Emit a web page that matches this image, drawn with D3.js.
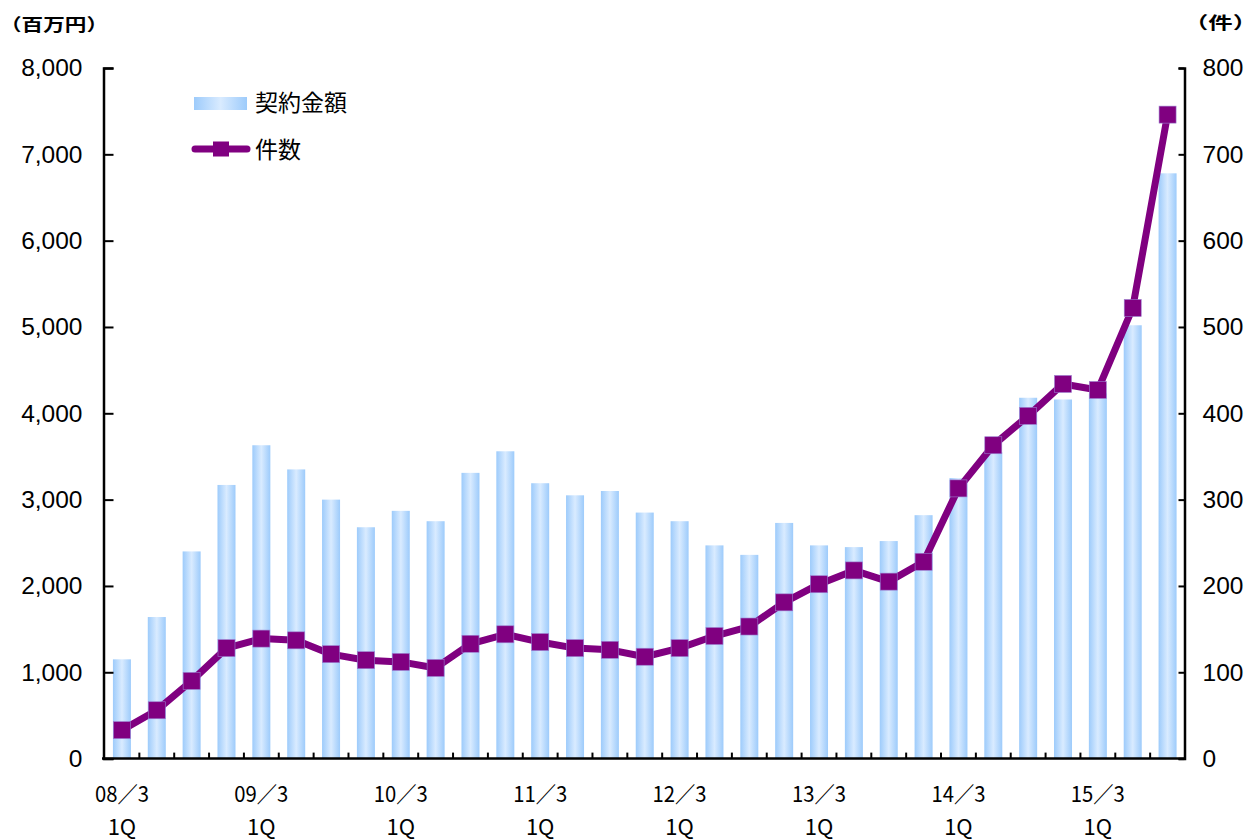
<!DOCTYPE html>
<html>
<head>
<meta charset="utf-8">
<script src="https://cdn.jsdelivr.net/npm/d3@7"></script>
<style>
  body { margin: 0; background: #fff; }
  svg { display: block; }
</style>
</head>
<body>
<svg width="1248" height="840"></svg>
<script>
// Données
const quarters = ['08/3', '', '', '', '09/3', '', '', '', '10/3', '', '', '', '11/3', '', '', '',
  '12/3', '', '', '', '13/3', '', '', '', '14/3', '', '', '', '15/3', '', ''];
const amounts = [1150, 1640, 2400, 3170, 3630, 3350, 3000, 2680, 2870, 2750, 3310, 3560,
  3190, 3050, 3100, 2850, 2750, 2470, 2360, 2730, 2470, 2450, 2520, 2820,
  3250, 3550, 4180, 4160, 4230, 5020, 6780];
const counts = [33, 56, 90, 128, 139, 137, 121, 114, 112, 105, 133, 144,
  135, 128, 126, 118, 128, 142, 153, 181, 202, 218, 205, 228,
  313, 363, 397, 434, 427, 522, 746];
const leftTicks = [0, 1000, 2000, 3000, 4000, 5000, 6000, 7000, 8000];
const rightTicks = [0, 100, 200, 300, 400, 500, 600, 700, 800];

const purple = '#800080';
const numFont = '"Liberation Sans", Arial, sans-serif';
const jpFont = '"Noto Sans CJK JP", sans-serif';

let svg = d3.select('svg');

const xc = d3.scaleBand().domain(d3.range(quarters.length)).range([104.5, 1185]);
const yLeft = d3.scaleLinear().domain([0, 8000]).range([758.6, 68]);
const yRight = d3.scaleLinear().domain([0, 800]).range([758.6, 68]);
const mid = i => xc(i) + xc.bandwidth() / 2;

// dégradé des barres
const grad = svg.append('defs').append('linearGradient')
  .attr('id', 'barGrad').attr('x1', '0%').attr('x2', '100%').attr('y1', '0%').attr('y2', '0%');
grad.append('stop').attr('offset', '0%').attr('stop-color', '#9DCBFB');
grad.append('stop').attr('offset', '50%').attr('stop-color', '#D9EBFF');
grad.append('stop').attr('offset', '100%').attr('stop-color', '#9DCBFB');

// # Barres #
svg.append('g').selectAll('rect')
  .data(amounts)
  .join('rect')
  .attr('x', (d, i) => mid(i) - 9)
  .attr('width', 18)
  .attr('y', d => yLeft(d))
  .attr('height', d => yLeft(0) - yLeft(d))
  .attr('fill', 'url(#barGrad)');

// # Axes #
const axisLeft = d3.axisLeft(yLeft).tickValues(leftTicks).tickSize(-10).tickPadding(21)
  .tickFormat(d3.format(','));
const gL = svg.append('g').attr('transform', 'translate(103.5,0)').call(axisLeft);

const axisRight = d3.axisRight(yRight).tickValues(rightTicks).tickSize(-6).tickPadding(18);
const gR = svg.append('g').attr('transform', 'translate(1184.5,0)').call(axisRight);

[gL, gR].forEach(g => {
  g.select('.domain').attr('stroke', '#000').attr('stroke-width', 2.5);
  g.selectAll('.tick line').attr('stroke', '#000').attr('stroke-width', 2);
  g.selectAll('.tick text').attr('font-family', numFont).attr('font-size', 24.5).attr('fill', '#000');
});

// axe du bas : petits traits entre les trimestres
const gB = svg.append('g');
gB.append('line')
  .attr('x1', 102).attr('x2', 1186)
  .attr('y1', yLeft(0)).attr('y2', yLeft(0))
  .attr('stroke', '#000').attr('stroke-width', 2.5);
gB.selectAll('line.tk')
  .data(d3.range(1, quarters.length))
  .join('line')
  .attr('class', 'tk')
  .attr('x1', i => xc(i)).attr('x2', i => xc(i))
  .attr('y1', yLeft(0)).attr('y2', yLeft(0) - 6)
  .attr('stroke', '#000').attr('stroke-width', 2);

const labelled = quarters.map((q, i) => ({ q, i })).filter(d => d.q !== '');
gB.selectAll('text.q')
  .data(labelled)
  .join('text')
  .attr('class', 'q')
  .attr('x', d => mid(d.i))
  .attr('y', 802)
  .attr('text-anchor', 'middle')
  .attr('font-family', jpFont).attr('font-size', 22)
  .attr('textLength', 54).attr('lengthAdjust', 'spacingAndGlyphs')
  .text(d => d.q.replace('/', '／'));
gB.selectAll('text.qq')
  .data(labelled)
  .join('text')
  .attr('class', 'qq')
  .attr('x', d => mid(d.i))
  .attr('y', 835)
  .attr('text-anchor', 'middle')
  .attr('font-family', jpFont).attr('font-size', 22)
  .text('1Q');

// unités (police un peu étirée comme sur l'original)
svg.append('text').attr('x', 0).attr('y', 31)
  .attr('font-family', jpFont).attr('font-size', 17).attr('font-weight', 700)
  .attr('textLength', 108).attr('lengthAdjust', 'spacingAndGlyphs')
  .text('（百万円）');
svg.append('text').attr('x', 1184).attr('y', 29)
  .attr('font-family', jpFont).attr('font-size', 17).attr('font-weight', 700)
  .attr('textLength', 73).attr('lengthAdjust', 'spacingAndGlyphs')
  .text('（件）');

// # Courbe #
const line = d3.line()
  .x((d, i) => mid(i))
  .y(d => yRight(d));
svg.append('path')
  .datum(counts)
  .attr('d', line)
  .attr('fill', 'none')
  .attr('stroke', purple)
  .attr('stroke-width', 7)
  .attr('stroke-linejoin', 'round');

svg.append('g').selectAll('rect')
  .data(counts)
  .join('rect')
  .attr('x', (d, i) => mid(i) - 8.5)
  .attr('y', d => yRight(d) - 8.5)
  .attr('width', 17).attr('height', 17)
  .attr('fill', purple)
  .attr('stroke', '#9b7fd0').attr('stroke-width', 0.6);

// # Légende #
const leg = svg.append('g');
leg.append('rect').attr('x', 194).attr('y', 97).attr('width', 53).attr('height', 13).attr('fill', 'url(#barGrad)');
leg.append('text').attr('x', 255).attr('y', 111)
  .attr('font-family', jpFont).attr('font-size', 23).text('契約金額');
leg.append('line').attr('x1', 195).attr('x2', 247).attr('y1', 149).attr('y2', 149)
  .attr('stroke', purple).attr('stroke-width', 7).attr('stroke-linecap', 'round');
leg.append('rect').attr('x', 213).attr('y', 141.5).attr('width', 16).attr('height', 15).attr('fill', purple);
leg.append('text').attr('x', 255).attr('y', 158)
  .attr('font-family', jpFont).attr('font-size', 23).text('件数');
</script>
</body>
</html>
